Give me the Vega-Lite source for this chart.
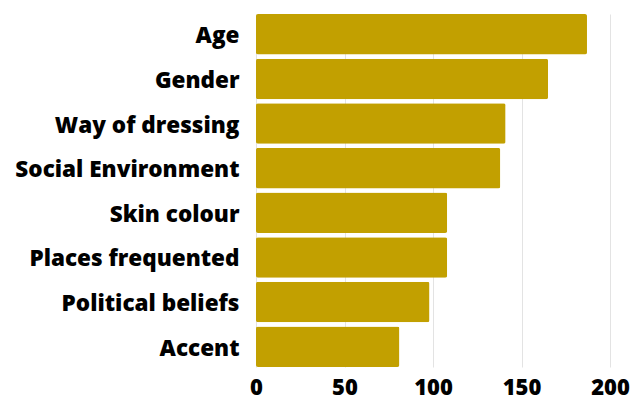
{
  "$schema": "https://vega.github.io/schema/vega-lite/v6.json",
  "width": 354,
  "height": 353,
  "autosize": {"type": "none"},
  "padding": {"left": 256, "top": 14, "right": 20, "bottom": 37},
  "background": "white",
  "config": {
    "view": {"stroke": null},
    "font": "Open Sans"
  },
  "data": {
    "values": [
      {"factor": "Age", "count": 187},
      {"factor": "Gender", "count": 165},
      {"factor": "Way of dressing", "count": 141},
      {"factor": "Social Environment", "count": 138},
      {"factor": "Skin colour", "count": 108},
      {"factor": "Places frequented", "count": 108},
      {"factor": "Political beliefs", "count": 98},
      {"factor": "Accent", "count": 81}
    ]
  },
  "mark": {"type": "bar", "color": "#C2A000", "cornerRadius": 2},
  "encoding": {
    "y": {
      "field": "factor",
      "type": "nominal",
      "sort": null,
      "title": null,
      "scale": {"paddingInner": 0.09, "paddingOuter": 0.0},
      "axis": {
        "domain": false,
        "ticks": false,
        "grid": false,
        "labelFont": "Open Sans",
        "labelFontWeight": 800,
        "labelFontSize": 22.5,
        "labelColor": "#000000",
        "labelPadding": 17,
        "labelLimit": 300,
        "labelOffset": 2
      }
    },
    "x": {
      "field": "count",
      "type": "quantitative",
      "title": null,
      "scale": {"domain": [0, 200]},
      "axis": {
        "values": [0, 50, 100, 150, 200],
        "domain": false,
        "ticks": false,
        "grid": true,
        "gridColor": "#e3e3e3",
        "gridWidth": 1,
        "labelFont": "Open Sans",
        "labelFontWeight": 800,
        "labelFontSize": 22,
        "labelColor": "#000000",
        "labelPadding": 10,
        "labelFlush": false
      }
    }
  }
}
